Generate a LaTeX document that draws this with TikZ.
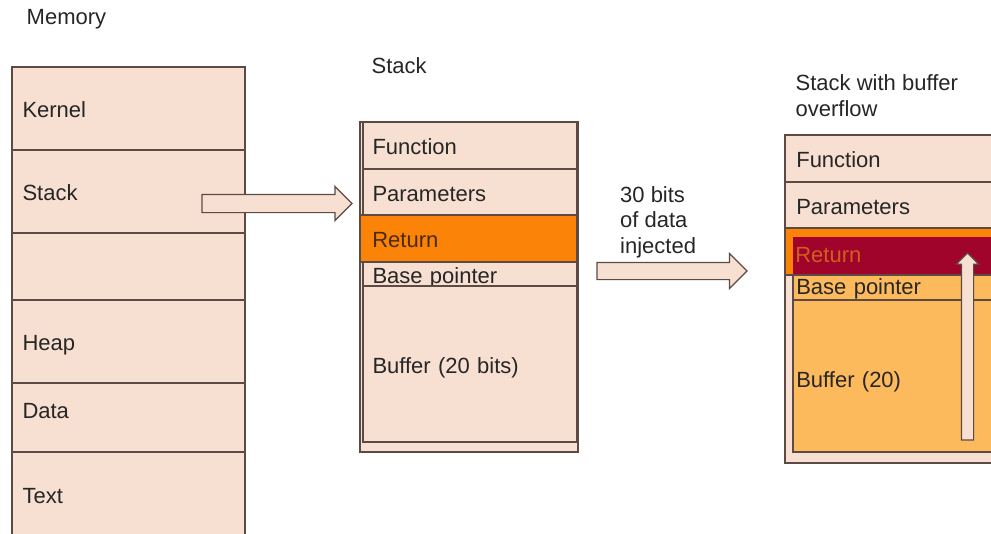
\documentclass[tikz,border=0pt]{standalone}
\usepackage{fontspec}
\setmainfont{Liberation Sans}
\usepackage{tikz}
\usetikzlibrary{shapes.arrows}
\definecolor{peach}{HTML}{F7E0D1}
\definecolor{edge}{HTML}{5E4A44}
\definecolor{ink}{HTML}{262626}
\definecolor{retorange}{HTML}{FA8308}
\definecolor{rettext}{HTML}{4A2A10}
\definecolor{smashred}{HTML}{A0042A}
\definecolor{smashtext}{HTML}{CF5F1C}
\definecolor{spill}{HTML}{FDBA5D}
\definecolor{spilltext}{HTML}{B35E0A}
\newcommand\bigtext{\fontsize{22}{25.7}\selectfont}

\begin{document}
\begin{tikzpicture}[x=1pt,y=-1pt]%
        \useasboundingbox (0,0) rectangle (991,533);%%
        \tikzstyle{cell}=[draw=edge,line width=1.2pt,fill=peach,anchor=north west,outer sep=0pt,inner ysep=0pt,align=left,text height=18.5pt,text depth=0pt,font=\bigtext,text=ink] %%
        \tikzstyle{frame}=[draw=edge,line width=1.2pt,fill=peach,anchor=north west,outer sep=0pt,inner sep=0pt] %%
        \tikzstyle{block}=[single arrow,draw=edge,line width=1.2pt,fill=peach,outer sep=0pt,inner xsep=0pt,anchor=tail] %%
        \tikzstyle{caption}=[inner sep=0pt,align=left,font=\bigtext,text=ink] %%
        % headings
        \node[caption,anchor=base west] (memtitle) at (26.5,24.5) {Memory}; %%
        \node[caption,anchor=base west] (stacktitle) at (371.5,73.5) {Stack}; %%
        \node[caption,anchor=north west] (overtitle) at (795.5,74.3) {Stack with buffer\\overflow}; %%
        \node[caption,anchor=north west] (injecttitle) at (620,186) {30 bits\\of data\\injected}; %%
        % process memory
        \begin{scope}[text width=212pt,inner xsep=10.5pt]
        \node[cell,minimum height=83pt] (kernel) at (12,67) {Kernel}; %%
        \node[cell,minimum height=83pt] (mstack) at (12,150) {Stack}; %%
        \node[cell,minimum height=67pt] (gap) at (12,233) {}; %%
        \node[cell,minimum height=83pt] (heap) at (12,300) {Heap}; %%
        \node[cell,minimum height=69pt,text depth=17.5pt] (data) at (12,383) {Data}; %%
        \node[cell,minimum height=84pt] (textseg) at (12,452) {Text}; %%
        \end{scope}
        % normal stack frame
        \node[frame,minimum width=218pt,minimum height=330pt] (stackframe) at (360,122) {}; %%
        \begin{scope}[text width=195pt,inner xsep=9.5pt]
        \node[cell,minimum height=47pt] (func) at (363,122) {Function}; %%
        \node[cell,minimum height=46pt] (params) at (363,169) {Parameters}; %%
        \node[cell,minimum height=24pt] (basep) at (363,262) {Base pointer}; %%
        \node[cell,minimum height=156pt] (buffer) at (363,286) {Buffer (20 bits)}; %%
        \end{scope}
        \node[cell,fill=retorange,text=rettext,text width=192.4pt,inner xsep=12.3pt,minimum height=47pt] (ret) at (360,215) {Return}; %%
        % overflowed stack frame
        \node[frame,minimum width=225pt,minimum height=328pt] (overframe) at (785,135) {}; %%
        \begin{scope}[text width=202.4pt,inner xsep=11.3pt]
        \node[cell,minimum height=47pt] (ofunc) at (785,135) {Function}; %%
        \node[cell,minimum height=46pt] (oparams) at (785,182) {Parameters}; %%
        \end{scope}
        \node[cell,fill=retorange,minimum width=225pt,minimum height=47pt,inner sep=0pt] (oretband) at (785,228) {}; %%
        \node[cell,draw=none,fill=smashred,text=smashtext,text width=212.4pt,inner xsep=2.3pt,minimum height=38pt,text height=12pt] (oret) at (793,237) {Return}; %%
        \begin{scope}[text=spilltext,text width=210.4pt,inner xsep=3.3pt]
        \node[cell,fill=spill,minimum height=25pt,text height=13pt] (obasep) at (793,275) {Base pointer}; %%
        \node[cell,fill=spill,minimum height=152pt,text height=22.6pt] (obuffer) at (793,300) {Buffer (20)}; %%
        \end{scope}
        % block arrows
        \node[block,minimum height=150pt,inner ysep=8.5pt,single arrow head extend=8pt] (tostack) at (202,203.5) {}; %%
        \node[block,minimum height=150pt,inner ysep=8pt,single arrow head extend=9pt] (inject) at (597,271) {}; %%
        \node[block,minimum height=187pt,inner xsep=5.5pt,inner ysep=0pt,single arrow head extend=5pt,shape border rotate=90] (climb) at (967.5,440) {}; %%
\end{tikzpicture}
\end{document}
